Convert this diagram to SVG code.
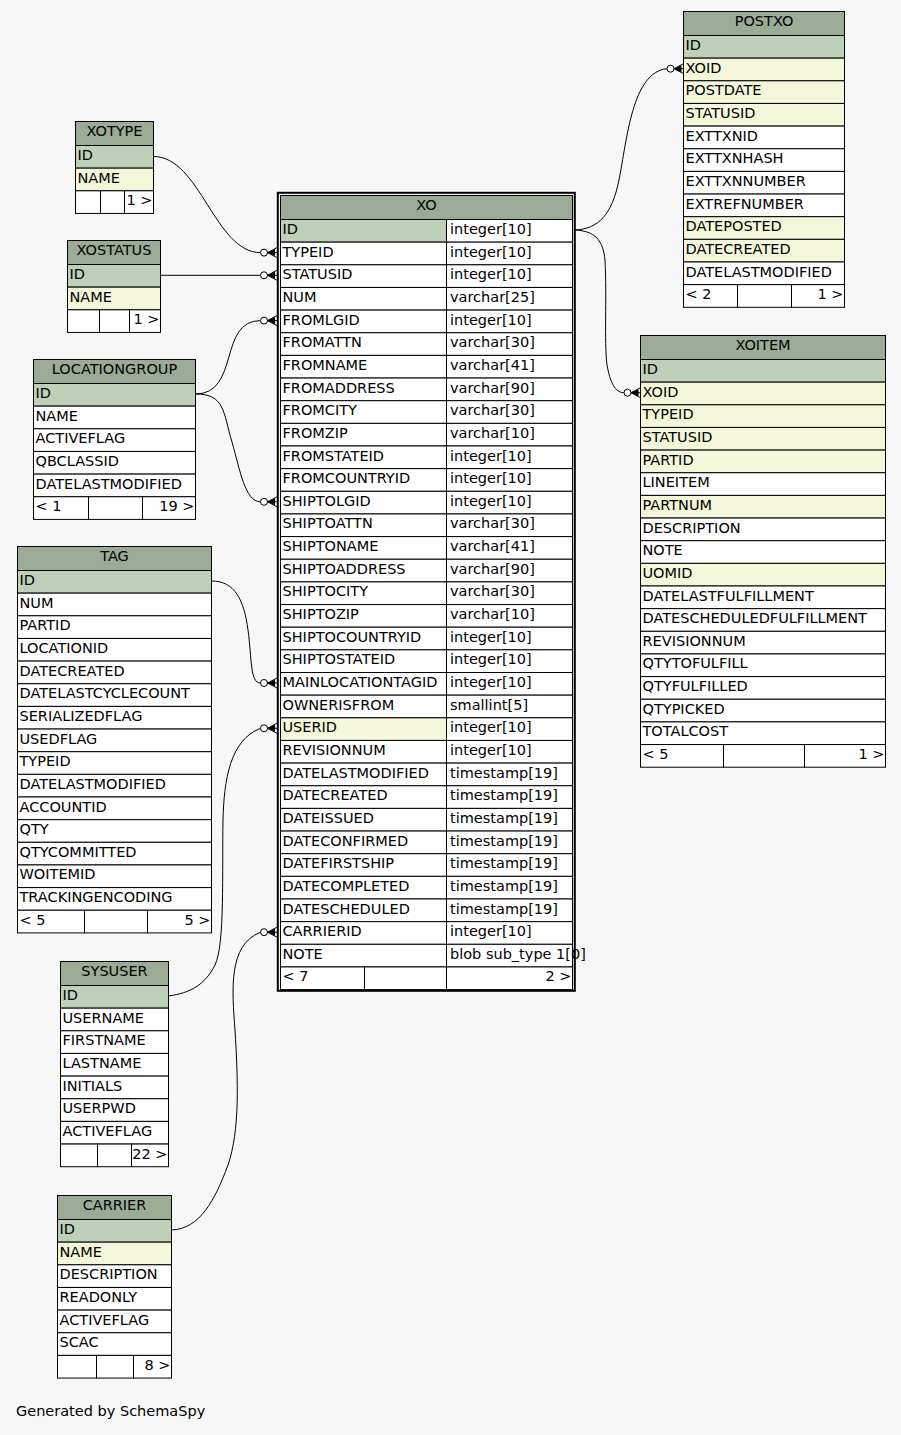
<svg xmlns="http://www.w3.org/2000/svg" xmlns:xlink="http://www.w3.org/1999/xlink" width="901" height="1435" viewBox="0 0 901 1435">
<style>
.h{fill:#9bab96;stroke:#000;stroke-width:1}
.pk{fill:#bed1b8;stroke:#000;stroke-width:1}
.ix{fill:#f4f7da;stroke:#000;stroke-width:1}
.c{fill:#fff;stroke:#000;stroke-width:1}
text{font-family:"DejaVu Sans","Liberation Sans",sans-serif;font-size:14.5px;fill:#000;transform:translate(0px,-1.5px)}
text.g{transform:none}
.m{text-anchor:middle}
.e{text-anchor:end}
.edge{fill:none;stroke:#000;stroke-width:1}
</style>
<defs>
<g id="crow">
<circle cx="-13" cy="0" r="3.5" fill="#fff" stroke="#000" stroke-width="1"/>
<path d="M-9.5,0 L0,-5 M-9.5,0 L0,0 M-9.5,0 L0,5" fill="none" stroke="#000" stroke-width="1"/>
<polygon points="-9.5,0 -2,-3.5 -2,3.5" fill="#000"/>
</g>
</defs>
<rect x="0" y="0" width="901" height="1435" fill="#f7f7f7"/>

<g id="connectors">
<path class="edge" d="M153.5,156.5 C200,156.5 215,252.6 260.5,252.6"/>
<use xlink:href="#crow" href="#crow" x="277" y="252.6"/>
<path class="edge" d="M160.5,275.3 L260.5,275.3"/>
<use xlink:href="#crow" href="#crow" x="277" y="275.3"/>
<path class="edge" d="M195.5,394 C240,394 218,320.6 260.5,320.6"/>
<use xlink:href="#crow" href="#crow" x="277" y="320.6"/>
<path class="edge" d="M195.5,394 C225,394 223,412 232,442 C240,470 245,501.8 260.5,501.8"/>
<use xlink:href="#crow" href="#crow" x="277" y="501.8"/>
<path class="edge" d="M211.5,581 C235,581 244,600 248,630 C252,660 250,683 260.5,683"/>
<use xlink:href="#crow" href="#crow" x="277" y="683"/>
<path class="edge" d="M168.5,996 C190,993 205,985 215,965 C225,945 222,870 223,820 C224,780 230,740 260.5,728.3"/>
<use xlink:href="#crow" href="#crow" x="277" y="728.3"/>
<path class="edge" d="M171.5,1230 C200,1229 215,1200 228,1165 C240,1130 238,1080 235,1030 C232,990 228,945 260.5,932.2"/>
<use xlink:href="#crow" href="#crow" x="277" y="932.2"/>
<path class="edge" d="M575,230 C598,229 612,215 619,180 C627,140 632,72 667,68.7"/>
<use xlink:href="#crow" href="#crow" x="683.5" y="68.7"/>
<path class="edge" d="M575,230 C595,231 603,240 605,260 C607,300 604,340 607,365 C610,382 615,392.7 624,392.7"/>
<use xlink:href="#crow" href="#crow" x="640.5" y="392.7"/>
</g>

<g id="xotype">
<rect class="h" x="75.5" y="121.5" width="78" height="24"/><text class="m" x="114.5" y="137.5">XOTYPE</text>
<rect class="pk" x="75.5" y="145.5" width="78" height="22.65"/><text x="77.5" y="161.5">ID</text>
<rect class="ix" x="75.5" y="168.15" width="78" height="22.65"/><text x="77.5" y="184.15">NAME</text>
<rect class="c" x="75.5" y="190.8" width="25" height="22.65"/><rect class="c" x="100.5" y="190.8" width="24" height="22.65"/><rect class="c" x="124.5" y="190.8" width="29" height="22.65"/>
<text class="e" x="152.5" y="206.8">1 &gt;</text>
</g>

<g id="xostatus">
<rect class="h" x="67.5" y="240.5" width="93" height="24"/><text class="m" x="114" y="256.5">XOSTATUS</text>
<rect class="pk" x="67.5" y="264.5" width="93" height="22.65"/><text x="69.5" y="280.5">ID</text>
<rect class="ix" x="67.5" y="287.15" width="93" height="22.65"/><text x="69.5" y="303.15">NAME</text>
<rect class="c" x="67.5" y="309.8" width="32" height="22.65"/><rect class="c" x="99.5" y="309.8" width="30" height="22.65"/><rect class="c" x="129.5" y="309.8" width="31" height="22.65"/>
<text class="e" x="159.5" y="325.8">1 &gt;</text>
</g>

<g id="locationgroup">
<rect class="h" x="33.5" y="359.5" width="162" height="24"/><text class="m" x="114.5" y="375.5">LOCATIONGROUP</text>
<rect class="pk" x="33.5" y="383.5" width="162" height="22.65"/><text x="35.5" y="399.5">ID</text>
<rect class="c" x="33.5" y="406.15" width="162" height="22.65"/><text x="35.5" y="422.15">NAME</text>
<rect class="c" x="33.5" y="428.8" width="162" height="22.65"/><text x="35.5" y="444.8">ACTIVEFLAG</text>
<rect class="c" x="33.5" y="451.45" width="162" height="22.65"/><text x="35.5" y="467.45">QBCLASSID</text>
<rect class="c" x="33.5" y="474.1" width="162" height="22.65"/><text x="35.5" y="490.1">DATELASTMODIFIED</text>
<rect class="c" x="33.5" y="496.75" width="55" height="22.65"/><rect class="c" x="88.5" y="496.75" width="54" height="22.65"/><rect class="c" x="142.5" y="496.75" width="53" height="22.65"/>
<text x="35.5" y="512.75">&lt; 1</text><text class="e" x="194.5" y="512.75">19 &gt;</text>
</g>

<g id="tag">
<rect class="h" x="17.5" y="546.5" width="194" height="24"/><text class="m" x="114.5" y="562.5">TAG</text>
<rect class="pk" x="17.5" y="570.5" width="194" height="22.65"/><text x="19.5" y="586.5">ID</text>
<rect class="c" x="17.5" y="593.15" width="194" height="22.65"/><text x="19.5" y="609.15">NUM</text>
<rect class="c" x="17.5" y="615.8" width="194" height="22.65"/><text x="19.5" y="631.8">PARTID</text>
<rect class="c" x="17.5" y="638.45" width="194" height="22.65"/><text x="19.5" y="654.45">LOCATIONID</text>
<rect class="c" x="17.5" y="661.1" width="194" height="22.65"/><text x="19.5" y="677.1">DATECREATED</text>
<rect class="c" x="17.5" y="683.75" width="194" height="22.65"/><text x="19.5" y="699.75">DATELASTCYCLECOUNT</text>
<rect class="c" x="17.5" y="706.4" width="194" height="22.65"/><text x="19.5" y="722.4">SERIALIZEDFLAG</text>
<rect class="c" x="17.5" y="729.05" width="194" height="22.65"/><text x="19.5" y="745.05">USEDFLAG</text>
<rect class="c" x="17.5" y="751.7" width="194" height="22.65"/><text x="19.5" y="767.7">TYPEID</text>
<rect class="c" x="17.5" y="774.35" width="194" height="22.65"/><text x="19.5" y="790.35">DATELASTMODIFIED</text>
<rect class="c" x="17.5" y="797" width="194" height="22.65"/><text x="19.5" y="813">ACCOUNTID</text>
<rect class="c" x="17.5" y="819.65" width="194" height="22.65"/><text x="19.5" y="835.65">QTY</text>
<rect class="c" x="17.5" y="842.3" width="194" height="22.65"/><text x="19.5" y="858.3">QTYCOMMITTED</text>
<rect class="c" x="17.5" y="864.95" width="194" height="22.65"/><text x="19.5" y="880.95">WOITEMID</text>
<rect class="c" x="17.5" y="887.6" width="194" height="22.65"/><text x="19.5" y="903.6">TRACKINGENCODING</text>
<rect class="c" x="17.5" y="910.25" width="67" height="22.65"/><rect class="c" x="84.5" y="910.25" width="63" height="22.65"/><rect class="c" x="147.5" y="910.25" width="64" height="22.65"/>
<text x="19.5" y="926.25">&lt; 5</text><text class="e" x="210.5" y="926.25">5 &gt;</text>
</g>

<g id="sysuser">
<rect class="h" x="60.5" y="961.5" width="108" height="24"/><text class="m" x="114.5" y="977.5">SYSUSER</text>
<rect class="pk" x="60.5" y="985.5" width="108" height="22.65"/><text x="62.5" y="1001.5">ID</text>
<rect class="c" x="60.5" y="1008.15" width="108" height="22.65"/><text x="62.5" y="1024.15">USERNAME</text>
<rect class="c" x="60.5" y="1030.8" width="108" height="22.65"/><text x="62.5" y="1046.8">FIRSTNAME</text>
<rect class="c" x="60.5" y="1053.45" width="108" height="22.65"/><text x="62.5" y="1069.45">LASTNAME</text>
<rect class="c" x="60.5" y="1076.1" width="108" height="22.65"/><text x="62.5" y="1092.1">INITIALS</text>
<rect class="c" x="60.5" y="1098.75" width="108" height="22.65"/><text x="62.5" y="1114.75">USERPWD</text>
<rect class="c" x="60.5" y="1121.4" width="108" height="22.65"/><text x="62.5" y="1137.4">ACTIVEFLAG</text>
<rect class="c" x="60.5" y="1144.05" width="37" height="22.65"/><rect class="c" x="97.5" y="1144.05" width="34" height="22.65"/><rect class="c" x="131.5" y="1144.05" width="37" height="22.65"/>
<text class="e" x="167.5" y="1160.05">22 &gt;</text>
</g>

<g id="carrier">
<rect class="h" x="57.5" y="1195.5" width="114" height="24"/><text class="m" x="114.5" y="1211.5">CARRIER</text>
<rect class="pk" x="57.5" y="1219.5" width="114" height="22.65"/><text x="59.5" y="1235.5">ID</text>
<rect class="ix" x="57.5" y="1242.15" width="114" height="22.65"/><text x="59.5" y="1258.15">NAME</text>
<rect class="c" x="57.5" y="1264.8" width="114" height="22.65"/><text x="59.5" y="1280.8">DESCRIPTION</text>
<rect class="c" x="57.5" y="1287.45" width="114" height="22.65"/><text x="59.5" y="1303.45">READONLY</text>
<rect class="c" x="57.5" y="1310.1" width="114" height="22.65"/><text x="59.5" y="1326.1">ACTIVEFLAG</text>
<rect class="c" x="57.5" y="1332.75" width="114" height="22.65"/><text x="59.5" y="1348.75">SCAC</text>
<rect class="c" x="57.5" y="1355.4" width="39" height="22.65"/><rect class="c" x="96.5" y="1355.4" width="37" height="22.65"/><rect class="c" x="133.5" y="1355.4" width="38" height="22.65"/>
<text class="e" x="170.5" y="1371.4">8 &gt;</text>
</g>

<g id="postxo">
<rect class="h" x="683.5" y="11.5" width="161" height="24"/><text class="m" x="764" y="27.5">POSTXO</text>
<rect class="pk" x="683.5" y="35.5" width="161" height="22.65"/><text x="685.5" y="51.5">ID</text>
<rect class="ix" x="683.5" y="58.15" width="161" height="22.65"/><text x="685.5" y="74.15">XOID</text>
<rect class="ix" x="683.5" y="80.8" width="161" height="22.65"/><text x="685.5" y="96.8">POSTDATE</text>
<rect class="ix" x="683.5" y="103.45" width="161" height="22.65"/><text x="685.5" y="119.45">STATUSID</text>
<rect class="c" x="683.5" y="126.1" width="161" height="22.65"/><text x="685.5" y="142.1">EXTTXNID</text>
<rect class="c" x="683.5" y="148.75" width="161" height="22.65"/><text x="685.5" y="164.75">EXTTXNHASH</text>
<rect class="c" x="683.5" y="171.4" width="161" height="22.65"/><text x="685.5" y="187.4">EXTTXNNUMBER</text>
<rect class="c" x="683.5" y="194.05" width="161" height="22.65"/><text x="685.5" y="210.05">EXTREFNUMBER</text>
<rect class="ix" x="683.5" y="216.7" width="161" height="22.65"/><text x="685.5" y="232.7">DATEPOSTED</text>
<rect class="ix" x="683.5" y="239.35" width="161" height="22.65"/><text x="685.5" y="255.35">DATECREATED</text>
<rect class="c" x="683.5" y="262" width="161" height="22.65"/><text x="685.5" y="278">DATELASTMODIFIED</text>
<rect class="c" x="683.5" y="284.65" width="54" height="22.65"/><rect class="c" x="737.5" y="284.65" width="54" height="22.65"/><rect class="c" x="791.5" y="284.65" width="53" height="22.65"/>
<text x="685.5" y="300.65">&lt; 2</text><text class="e" x="843.5" y="300.65">1 &gt;</text>
</g>

<g id="xoitem">
<rect class="h" x="640.5" y="335.5" width="245" height="24"/><text class="m" x="763" y="351.5">XOITEM</text>
<rect class="pk" x="640.5" y="359.5" width="245" height="22.65"/><text x="642.5" y="375.5">ID</text>
<rect class="ix" x="640.5" y="382.15" width="245" height="22.65"/><text x="642.5" y="398.15">XOID</text>
<rect class="ix" x="640.5" y="404.8" width="245" height="22.65"/><text x="642.5" y="420.8">TYPEID</text>
<rect class="ix" x="640.5" y="427.45" width="245" height="22.65"/><text x="642.5" y="443.45">STATUSID</text>
<rect class="ix" x="640.5" y="450.1" width="245" height="22.65"/><text x="642.5" y="466.1">PARTID</text>
<rect class="c" x="640.5" y="472.75" width="245" height="22.65"/><text x="642.5" y="488.75">LINEITEM</text>
<rect class="ix" x="640.5" y="495.4" width="245" height="22.65"/><text x="642.5" y="511.4">PARTNUM</text>
<rect class="c" x="640.5" y="518.05" width="245" height="22.65"/><text x="642.5" y="534.05">DESCRIPTION</text>
<rect class="c" x="640.5" y="540.7" width="245" height="22.65"/><text x="642.5" y="556.7">NOTE</text>
<rect class="ix" x="640.5" y="563.35" width="245" height="22.65"/><text x="642.5" y="579.35">UOMID</text>
<rect class="c" x="640.5" y="586" width="245" height="22.65"/><text x="642.5" y="602">DATELASTFULFILLMENT</text>
<rect class="c" x="640.5" y="608.65" width="245" height="22.65"/><text x="642.5" y="624.65">DATESCHEDULEDFULFILLMENT</text>
<rect class="c" x="640.5" y="631.3" width="245" height="22.65"/><text x="642.5" y="647.3">REVISIONNUM</text>
<rect class="c" x="640.5" y="653.95" width="245" height="22.65"/><text x="642.5" y="669.95">QTYTOFULFILL</text>
<rect class="c" x="640.5" y="676.6" width="245" height="22.65"/><text x="642.5" y="692.6">QTYFULFILLED</text>
<rect class="c" x="640.5" y="699.25" width="245" height="22.65"/><text x="642.5" y="715.25">QTYPICKED</text>
<rect class="c" x="640.5" y="721.9" width="245" height="22.65"/><text x="642.5" y="737.9">TOTALCOST</text>
<rect class="c" x="640.5" y="744.55" width="83" height="22.65"/><rect class="c" x="723.5" y="744.55" width="81" height="22.65"/><rect class="c" x="804.5" y="744.55" width="81" height="22.65"/>
<text x="642.5" y="760.55">&lt; 5</text><text class="e" x="884.5" y="760.55">1 &gt;</text>
</g>

<g id="xo">
<rect x="277.8" y="192.8" width="297" height="798" fill="none" stroke="#000" stroke-width="2"/>
<rect class="h" x="280.5" y="195.5" width="292" height="24"/><text class="m" x="426.5" y="211.5">XO</text>
<rect class="pk" x="280.5" y="219.5" width="166" height="22.65"/><rect class="c" x="446.5" y="219.5" width="126" height="22.65"/><text x="282.5" y="235.5">ID</text><text x="450" y="235.5">integer[10]</text>
<rect class="c" x="280.5" y="242.15" width="166" height="22.65"/><rect class="c" x="446.5" y="242.15" width="126" height="22.65"/><text x="282.5" y="258.15">TYPEID</text><text x="450" y="258.15">integer[10]</text>
<rect class="c" x="280.5" y="264.8" width="166" height="22.65"/><rect class="c" x="446.5" y="264.8" width="126" height="22.65"/><text x="282.5" y="280.8">STATUSID</text><text x="450" y="280.8">integer[10]</text>
<rect class="c" x="280.5" y="287.45" width="166" height="22.65"/><rect class="c" x="446.5" y="287.45" width="126" height="22.65"/><text x="282.5" y="303.45">NUM</text><text x="450" y="303.45">varchar[25]</text>
<rect class="c" x="280.5" y="310.1" width="166" height="22.65"/><rect class="c" x="446.5" y="310.1" width="126" height="22.65"/><text x="282.5" y="326.1">FROMLGID</text><text x="450" y="326.1">integer[10]</text>
<rect class="c" x="280.5" y="332.75" width="166" height="22.65"/><rect class="c" x="446.5" y="332.75" width="126" height="22.65"/><text x="282.5" y="348.75">FROMATTN</text><text x="450" y="348.75">varchar[30]</text>
<rect class="c" x="280.5" y="355.4" width="166" height="22.65"/><rect class="c" x="446.5" y="355.4" width="126" height="22.65"/><text x="282.5" y="371.4">FROMNAME</text><text x="450" y="371.4">varchar[41]</text>
<rect class="c" x="280.5" y="378.05" width="166" height="22.65"/><rect class="c" x="446.5" y="378.05" width="126" height="22.65"/><text x="282.5" y="394.05">FROMADDRESS</text><text x="450" y="394.05">varchar[90]</text>
<rect class="c" x="280.5" y="400.7" width="166" height="22.65"/><rect class="c" x="446.5" y="400.7" width="126" height="22.65"/><text x="282.5" y="416.7">FROMCITY</text><text x="450" y="416.7">varchar[30]</text>
<rect class="c" x="280.5" y="423.35" width="166" height="22.65"/><rect class="c" x="446.5" y="423.35" width="126" height="22.65"/><text x="282.5" y="439.35">FROMZIP</text><text x="450" y="439.35">varchar[10]</text>
<rect class="c" x="280.5" y="446" width="166" height="22.65"/><rect class="c" x="446.5" y="446" width="126" height="22.65"/><text x="282.5" y="462">FROMSTATEID</text><text x="450" y="462">integer[10]</text>
<rect class="c" x="280.5" y="468.65" width="166" height="22.65"/><rect class="c" x="446.5" y="468.65" width="126" height="22.65"/><text x="282.5" y="484.65">FROMCOUNTRYID</text><text x="450" y="484.65">integer[10]</text>
<rect class="c" x="280.5" y="491.3" width="166" height="22.65"/><rect class="c" x="446.5" y="491.3" width="126" height="22.65"/><text x="282.5" y="507.3">SHIPTOLGID</text><text x="450" y="507.3">integer[10]</text>
<rect class="c" x="280.5" y="513.95" width="166" height="22.65"/><rect class="c" x="446.5" y="513.95" width="126" height="22.65"/><text x="282.5" y="529.95">SHIPTOATTN</text><text x="450" y="529.95">varchar[30]</text>
<rect class="c" x="280.5" y="536.6" width="166" height="22.65"/><rect class="c" x="446.5" y="536.6" width="126" height="22.65"/><text x="282.5" y="552.6">SHIPTONAME</text><text x="450" y="552.6">varchar[41]</text>
<rect class="c" x="280.5" y="559.25" width="166" height="22.65"/><rect class="c" x="446.5" y="559.25" width="126" height="22.65"/><text x="282.5" y="575.25">SHIPTOADDRESS</text><text x="450" y="575.25">varchar[90]</text>
<rect class="c" x="280.5" y="581.9" width="166" height="22.65"/><rect class="c" x="446.5" y="581.9" width="126" height="22.65"/><text x="282.5" y="597.9">SHIPTOCITY</text><text x="450" y="597.9">varchar[30]</text>
<rect class="c" x="280.5" y="604.55" width="166" height="22.65"/><rect class="c" x="446.5" y="604.55" width="126" height="22.65"/><text x="282.5" y="620.55">SHIPTOZIP</text><text x="450" y="620.55">varchar[10]</text>
<rect class="c" x="280.5" y="627.2" width="166" height="22.65"/><rect class="c" x="446.5" y="627.2" width="126" height="22.65"/><text x="282.5" y="643.2">SHIPTOCOUNTRYID</text><text x="450" y="643.2">integer[10]</text>
<rect class="c" x="280.5" y="649.85" width="166" height="22.65"/><rect class="c" x="446.5" y="649.85" width="126" height="22.65"/><text x="282.5" y="665.85">SHIPTOSTATEID</text><text x="450" y="665.85">integer[10]</text>
<rect class="c" x="280.5" y="672.5" width="166" height="22.65"/><rect class="c" x="446.5" y="672.5" width="126" height="22.65"/><text x="282.5" y="688.5">MAINLOCATIONTAGID</text><text x="450" y="688.5">integer[10]</text>
<rect class="c" x="280.5" y="695.15" width="166" height="22.65"/><rect class="c" x="446.5" y="695.15" width="126" height="22.65"/><text x="282.5" y="711.15">OWNERISFROM</text><text x="450" y="711.15">smallint[5]</text>
<rect class="ix" x="280.5" y="717.8" width="166" height="22.65"/><rect class="c" x="446.5" y="717.8" width="126" height="22.65"/><text x="282.5" y="733.8">USERID</text><text x="450" y="733.8">integer[10]</text>
<rect class="c" x="280.5" y="740.45" width="166" height="22.65"/><rect class="c" x="446.5" y="740.45" width="126" height="22.65"/><text x="282.5" y="756.45">REVISIONNUM</text><text x="450" y="756.45">integer[10]</text>
<rect class="c" x="280.5" y="763.1" width="166" height="22.65"/><rect class="c" x="446.5" y="763.1" width="126" height="22.65"/><text x="282.5" y="779.1">DATELASTMODIFIED</text><text x="450" y="779.1">timestamp[19]</text>
<rect class="c" x="280.5" y="785.75" width="166" height="22.65"/><rect class="c" x="446.5" y="785.75" width="126" height="22.65"/><text x="282.5" y="801.75">DATECREATED</text><text x="450" y="801.75">timestamp[19]</text>
<rect class="c" x="280.5" y="808.4" width="166" height="22.65"/><rect class="c" x="446.5" y="808.4" width="126" height="22.65"/><text x="282.5" y="824.4">DATEISSUED</text><text x="450" y="824.4">timestamp[19]</text>
<rect class="c" x="280.5" y="831.05" width="166" height="22.65"/><rect class="c" x="446.5" y="831.05" width="126" height="22.65"/><text x="282.5" y="847.05">DATECONFIRMED</text><text x="450" y="847.05">timestamp[19]</text>
<rect class="c" x="280.5" y="853.7" width="166" height="22.65"/><rect class="c" x="446.5" y="853.7" width="126" height="22.65"/><text x="282.5" y="869.7">DATEFIRSTSHIP</text><text x="450" y="869.7">timestamp[19]</text>
<rect class="c" x="280.5" y="876.35" width="166" height="22.65"/><rect class="c" x="446.5" y="876.35" width="126" height="22.65"/><text x="282.5" y="892.35">DATECOMPLETED</text><text x="450" y="892.35">timestamp[19]</text>
<rect class="c" x="280.5" y="899" width="166" height="22.65"/><rect class="c" x="446.5" y="899" width="126" height="22.65"/><text x="282.5" y="915">DATESCHEDULED</text><text x="450" y="915">timestamp[19]</text>
<rect class="c" x="280.5" y="921.65" width="166" height="22.65"/><rect class="c" x="446.5" y="921.65" width="126" height="22.65"/><text x="282.5" y="937.65">CARRIERID</text><text x="450" y="937.65">integer[10]</text>
<rect class="c" x="280.5" y="944.3" width="166" height="22.65"/><rect class="c" x="446.5" y="944.3" width="126" height="22.65"/><text x="282.5" y="960.3">NOTE</text><text x="450" y="960.3">blob sub_type 1[0]</text>
<rect class="c" x="280.5" y="966.95" width="84" height="22.65"/><rect class="c" x="364.5" y="966.95" width="82" height="22.65"/><rect class="c" x="446.5" y="966.95" width="126" height="22.65"/>
<text x="282.5" y="982.95">&lt; 7</text><text class="e" x="571.5" y="982.95">2 &gt;</text>
</g>

<text class="g" x="16" y="1416">Generated by SchemaSpy</text>
</svg>
